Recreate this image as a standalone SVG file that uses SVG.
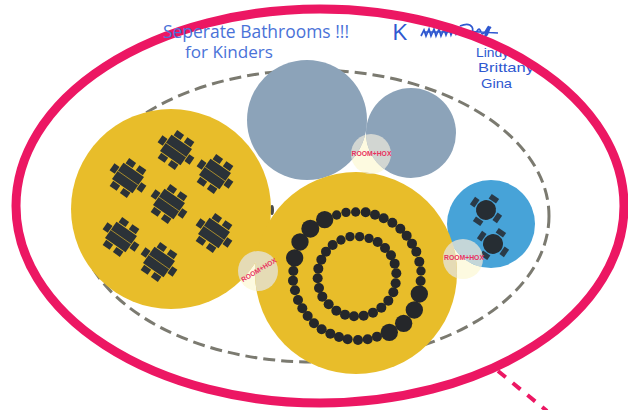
<svg xmlns="http://www.w3.org/2000/svg" xmlns:xlink="http://www.w3.org/1999/xlink" width="628" height="410" viewBox="0 0 628 410">
<style>
.hand{font-family:"Open Sans","Liberation Sans",sans-serif;font-weight:400}
.names{font-family:"Liberation Sans",Arial,sans-serif;font-size:13px}
.hl{fill:#4a72d8}
.hr{fill:#2f58d0}
.yellow{fill:#e8bd2a}
.slate{fill:#8ca3b9}
.dark{fill:#2b3238}
.chair{fill:#2b3238}
.under{fill:#fdfae0}
.port{fill:#e4e2d8;fill-opacity:.8}
.portlabel{font-family:"Liberation Sans",Arial,sans-serif;font-size:6.8px;font-weight:700;fill:#e8325f;text-anchor:middle}
</style>
<defs>
<clipPath id="rooms">
<circle cx="307" cy="120" r="60"/><circle cx="411" cy="133" r="45"/><circle cx="491" cy="224" r="44"/><circle cx="171" cy="209" r="100"/><circle cx="356" cy="273" r="101"/>
</clipPath>
<g id="table">
<rect x="-12.5" y="-10" width="25" height="20" class="dark"/>
<line x1="-12.5" y1="0" x2="12.5" y2="0" stroke="#c9a52c" stroke-width=".7"/>
<rect x="-10.5" y="-17" width="8.5" height="6.2" class="chair"/>
<rect x="2" y="-17" width="8.5" height="6.2" class="chair"/>
<rect x="-10.5" y="10.8" width="8.5" height="6.2" class="chair"/>
<rect x="2" y="10.8" width="8.5" height="6.2" class="chair"/>
<rect x="-19.5" y="-4.2" width="6.2" height="8.4" class="chair"/>
<rect x="13.3" y="-4.2" width="6.2" height="8.4" class="chair"/>
</g>
<g id="round">
<circle r="10" fill="#262d33"/>
<rect x="-4.5" y="-16.5" width="9" height="5.5" fill="#2a3a48"/>
<rect x="-4.5" y="11" width="9" height="5.5" fill="#2a3a48"/>
<rect x="-16.5" y="-4.5" width="5.5" height="9" fill="#2a3a48"/>
<rect x="11" y="-4.5" width="5.5" height="9" fill="#2a3a48"/>
</g>
</defs>
<rect width="628" height="410" fill="#fff"/>
<g id="notes-right" class="hr">
<text x="392" y="40" class="hand" font-size="22" textLength="15" lengthAdjust="spacingAndGlyphs">K</text>
<path d="M421 36l3-6 2 6 3-7 2 7 3-7 2 7 3-7 2 7 3-7 2 6 3-7 2 7 3-7 2 6 3-6 2 6M424 32h30M460 26c5-2 10-2 12 1s-1 5 2 6 4-6 6-3 1 5 4 3 4-8 5-6-1 7-3 9-1-4 5-9M462 31l36 2" fill="none" stroke="#2f58d0" stroke-width="1.7"/>
<text x="476" y="57" class="names" textLength="33" lengthAdjust="spacingAndGlyphs">Lindy</text>
<text x="478" y="72" class="names" textLength="56" lengthAdjust="spacingAndGlyphs">Brittany</text>
<text x="481" y="88" class="names" textLength="31" lengthAdjust="spacingAndGlyphs">Gina</text>
</g>
<g id="connectors">
<ellipse cx="313" cy="216" rx="236" ry="146" fill="none" stroke="#7b7a70" stroke-width="3" stroke-dasharray="12 6"/>
<line x1="498" y1="371" x2="547" y2="411" stroke="#ec1763" stroke-width="4" stroke-dasharray="10 9"/>
<ellipse cx="320" cy="206" rx="304" ry="197" fill="none" stroke="#ec1763" stroke-width="9"/>
<ellipse cx="272" cy="210" rx="2" ry="5" fill="#4d4d48"/>
</g>
<g id="note-left" class="hand hl">
<text x="163" y="38" font-size="18" textLength="186" lengthAdjust="spacingAndGlyphs">Seperate Bathrooms !!!</text>
<text x="185" y="58" font-size="16" textLength="88" lengthAdjust="spacingAndGlyphs">for Kinders</text>
</g>
<circle cx="371" cy="154" r="20" class="under"/>
<circle cx="258" cy="271" r="20" class="under"/>
<circle cx="463" cy="259" r="20" class="under"/>
<g id="room-slate-large"><circle cx="307" cy="120" r="60" class="slate"/></g>
<g id="room-slate-small"><circle cx="411" cy="133" r="45" class="slate"/></g>
<g id="room-blue">
<circle cx="491" cy="224" r="44" fill="#47a3d8"/>
<use xlink:href="#round" href="#round" transform="translate(486 210) rotate(35)"/>
<use xlink:href="#round" href="#round" transform="translate(493 244) rotate(35)"/>
</g>
<g id="room-yellow-left">
<circle cx="171" cy="209" r="100" class="yellow"/>
<use xlink:href="#table" href="#table" transform="translate(176 150) rotate(35)"/>
<use xlink:href="#table" href="#table" transform="translate(128 178) rotate(35)"/>
<use xlink:href="#table" href="#table" transform="translate(215 174) rotate(35)"/>
<use xlink:href="#table" href="#table" transform="translate(169 204) rotate(35)"/>
<use xlink:href="#table" href="#table" transform="translate(121 237) rotate(35)"/>
<use xlink:href="#table" href="#table" transform="translate(214 233) rotate(35)"/>
<use xlink:href="#table" href="#table" transform="translate(159 262) rotate(35)"/>
</g>
<g id="room-yellow-center">
<circle cx="356" cy="273" r="101" class="yellow"/>
<g transform="translate(230 170) scale(.3333)" fill="#25272a">
<circle cx="194" cy="264" r="26"/><circle cx="210" cy="216" r="26"/><circle cx="241" cy="176" r="27"/><circle cx="284" cy="149" r="26"/>
<circle cx="320" cy="135" r="14"/><circle cx="348" cy="127" r="14"/><circle cx="377" cy="126" r="14"/><circle cx="407" cy="127" r="15"/><circle cx="435" cy="134" r="15"/><circle cx="461" cy="145" r="15"/><circle cx="487" cy="158" r="15"/><circle cx="511" cy="176" r="15"/><circle cx="530" cy="197" r="15"/><circle cx="546" cy="221" r="15"/><circle cx="559" cy="245" r="15"/><circle cx="568" cy="275" r="15"/><circle cx="573" cy="303" r="14"/><circle cx="572" cy="333" r="15"/>
<circle cx="568" cy="372" r="26"/><circle cx="553" cy="420" r="26"/><circle cx="521" cy="460" r="26"/><circle cx="478" cy="487" r="26"/>
<circle cx="441" cy="500" r="15"/><circle cx="413" cy="508" r="15"/><circle cx="384" cy="510" r="15"/><circle cx="353" cy="508" r="15"/><circle cx="327" cy="501" r="15"/><circle cx="301" cy="491" r="15"/><circle cx="275" cy="478" r="15"/><circle cx="252" cy="460" r="15"/><circle cx="233" cy="438" r="15"/><circle cx="217" cy="415" r="15"/><circle cx="204" cy="390" r="15"/><circle cx="195" cy="361" r="15"/><circle cx="189" cy="332" r="15"/><circle cx="190" cy="303" r="15"/>
<circle cx="333" cy="210" r="14"/><circle cx="360" cy="200" r="14"/><circle cx="389" cy="200" r="14"/><circle cx="417" cy="205" r="14"/><circle cx="443" cy="216" r="15"/><circle cx="465" cy="234" r="15"/><circle cx="483" cy="256" r="15"/><circle cx="494" cy="281" r="15"/><circle cx="499" cy="310" r="15"/><circle cx="497" cy="340" r="15"/><circle cx="490" cy="367" r="15"/><circle cx="475" cy="392" r="15"/><circle cx="454" cy="413" r="15"/><circle cx="429" cy="428" r="15"/><circle cx="401" cy="437" r="15"/><circle cx="372" cy="439" r="15"/><circle cx="345" cy="434" r="15"/><circle cx="319" cy="422" r="15"/><circle cx="296" cy="403" r="15"/><circle cx="277" cy="380" r="15"/><circle cx="267" cy="354" r="15"/><circle cx="263" cy="325" r="15"/><circle cx="265" cy="296" r="15"/><circle cx="274" cy="269" r="15"/><circle cx="288" cy="245" r="15"/><circle cx="308" cy="225" r="15"/>
</g>
</g>
<g id="port-top"><circle cx="371" cy="154" r="20" class="port" clip-path="url(#rooms)"/><text x="371.5" y="155.5" class="portlabel">ROOM+HOX</text></g>
<g id="port-left"><circle cx="258" cy="271" r="20" class="port" clip-path="url(#rooms)"/><text transform="translate(260 272) rotate(-31)" class="portlabel">ROOM+HOX</text></g>
<g id="port-right"><circle cx="463" cy="259" r="20" class="port" clip-path="url(#rooms)"/><text x="464" y="259.5" class="portlabel">ROOM+HOX</text></g>
</svg>
